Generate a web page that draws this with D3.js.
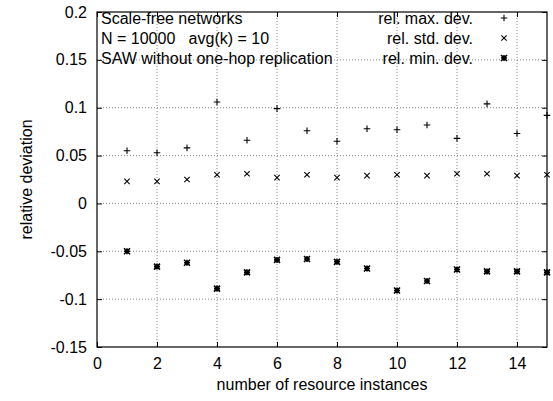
<!DOCTYPE html>
<html>
<head>
<meta charset="utf-8">
<script src="https://cdn.jsdelivr.net/npm/d3@7"></script>
<style>
  body { margin: 0; background: #fff; }
  svg { display: block; }
</style>
</head>
<body>
<script>
const instances = [1, 2, 3, 4, 5, 6, 7, 8, 9, 10, 11, 12, 13, 14, 15];
const maxDev = [0.055, 0.053, 0.058, 0.106, 0.066, 0.099, 0.076, 0.065, 0.078, 0.077, 0.082, 0.068, 0.104, 0.073, 0.092];
const stdDev = [0.023, 0.023, 0.025, 0.030, 0.031, 0.027, 0.030, 0.027, 0.029, 0.030, 0.029, 0.031, 0.031, 0.029, 0.030];
const minDev = [-0.050, -0.066, -0.062, -0.089, -0.072, -0.059, -0.058, -0.061, -0.068, -0.091, -0.081, -0.069, -0.071, -0.071, -0.072];
const xTicks = [0, 2, 4, 6, 8, 10, 12, 14];
const yTicks = [-0.15, -0.1, -0.05, 0, 0.05, 0.1, 0.15, 0.2];
const titleLines = ['Scale-free networks', 'N = 10000   avg(k) = 10', 'SAW without one-hop replication'];
const seriesNames = ['rel. max. dev.', 'rel. std. dev.', 'rel. min. dev.'];

const W = 553, H = 401;
const margin = { top: 12, right: 6, bottom: 54, left: 97 };
const width = W - margin.left - margin.right;
const height = H - margin.top - margin.bottom;
const font = '"Liberation Sans", Arial, Helvetica, sans-serif';
const fs = '16px';

const svg = d3.select('body').append('svg')
    .attr('width', W)
    .attr('height', H)
    .style('font-family', font);

const g = svg.append('g')
    .attr('transform', `translate(${margin.left},${margin.top})`);

const x = d3.scaleLinear().domain([0, 15]).range([0, width]);
const y = d3.scaleLinear().domain([-0.15, 0.2]).range([height, 0]);

// dotted grid
g.append('g')
    .selectAll('line')
    .data(xTicks.filter(d => d > 0))
    .join('line')
    .attr('x1', d => x(d)).attr('x2', d => x(d))
    .attr('y1', 0).attr('y2', height)
    .attr('stroke', '#888')
    .attr('stroke-dasharray', '1,2');

g.append('g')
    .selectAll('line')
    .data(yTicks.filter(d => d > -0.15 && d < 0.2))
    .join('line')
    .attr('x1', 0).attr('x2', width)
    .attr('y1', d => y(d)).attr('y2', d => y(d))
    .attr('stroke', '#888')
    .attr('stroke-dasharray', '1,2');

// axes, ticks pointing inward on all sides
const fmtY = d => String(+d.toFixed(2));
const styleAxis = a => {
    a.select('.domain').remove();
    a.selectAll('.tick line').attr('stroke', '#000');
    a.selectAll('.tick text').style('font-size', fs).style('font-family', font).attr('fill', '#000');
};

g.append('g')
    .attr('transform', `translate(0,${height})`)
    .call(d3.axisBottom(x).tickValues(xTicks).tickSize(-5).tickPadding(11).tickFormat(d3.format('d')))
    .call(styleAxis);

g.append('g')
    .call(d3.axisTop(x).tickValues(xTicks).tickSize(-5).tickFormat(''))
    .call(styleAxis);

g.append('g')
    .call(d3.axisLeft(y).tickValues(yTicks).tickSize(-5).tickPadding(10).tickFormat(fmtY))
    .call(styleAxis);

g.append('g')
    .attr('transform', `translate(${width},0)`)
    .call(d3.axisRight(y).tickValues(yTicks).tickSize(-5).tickFormat(''))
    .call(styleAxis);

g.append('rect')
    .attr('width', width)
    .attr('height', height)
    .attr('fill', 'none')
    .attr('stroke', '#000')
    .attr('stroke-width', 1.2);

// point symbols
const sym = {
    plus: (sel, s) => sel.append('path').attr('d', `M${-s},0H${s}M0,${-s}V${s}`),
    cross: (sel, s) => sel.append('path').attr('d', `M${-s},${-s}L${s},${s}M${-s},${s}L${s},${-s}`),
    star: (sel, s) => sel.append('path').attr('d', `M${-s},0H${s}M0,${-s}V${s}M${-s},${-s}L${s},${s}M${-s},${s}L${s},${-s}`)
};
const series = [
    { name: seriesNames[0], values: maxDev, shape: 'plus', size: 3.3 },
    { name: seriesNames[1], values: stdDev, shape: 'cross', size: 2.7 },
    { name: seriesNames[2], values: minDev, shape: 'star', size: 3 }
];

const drawSym = (sel, s) => sym[s.shape](sel, s.size)
    .attr('stroke', '#000')
    .attr('stroke-width', s.shape === 'star' ? 1.6 : 1.1)
    .attr('fill', 'none');

series.forEach(s => {
    g.append('g')
        .selectAll('g')
        .data(instances.map((k, i) => [k, s.values[i]]))
        .join('g')
        .attr('transform', d => `translate(${x(d[0])},${y(d[1])})`)
        .each(function () { drawSym(d3.select(this), s); });
});

// title text block
g.append('g')
    .selectAll('text')
    .data(titleLines)
    .join('text')
    .attr('x', 4)
    .attr('y', (d, i) => 12 + i * 20)
    .style('font-size', fs)
    .style('white-space', 'pre')
    .text(d => d);

// legend
const legend = g.append('g')
    .selectAll('g')
    .data(series)
    .join('g')
    .attr('transform', (d, i) => `translate(0,${6 + i * 20})`);

legend.append('text')
    .attr('x', 376)
    .attr('y', 0)
    .attr('dy', '0.35em')
    .attr('text-anchor', 'end')
    .style('font-size', fs)
    .text(d => d.name);

legend.each(function (d) {
    drawSym(d3.select(this).append('g').attr('transform', 'translate(407,0)'), d);
});

// axis labels
svg.append('text')
    .attr('transform', `translate(32,${margin.top + height / 2}) rotate(-90)`)
    .attr('text-anchor', 'middle')
    .style('font-size', fs)
    .text('relative deviation');

svg.append('text')
    .attr('x', margin.left + width / 2)
    .attr('y', 390)
    .attr('text-anchor', 'middle')
    .style('font-size', fs)
    .text('number of resource instances');
</script>
</body>
</html>
